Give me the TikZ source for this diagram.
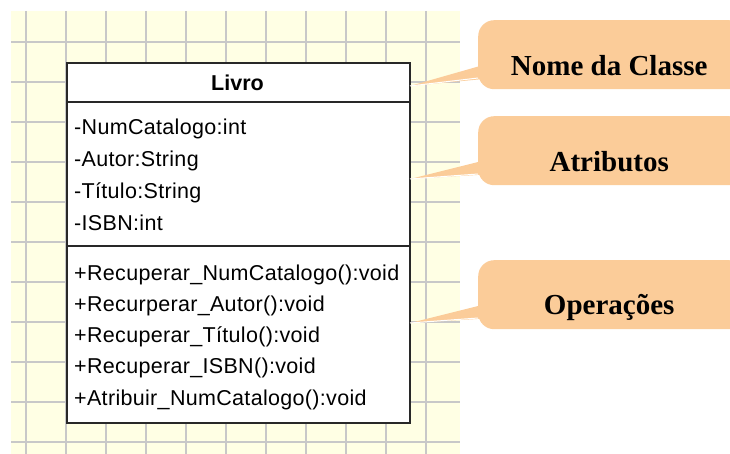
\documentclass[tikz,border=0pt]{standalone}
\usepackage{fontspec}
\setmainfont{Liberation Sans}
\newfontfamily\memberfont[LetterSpace=1.5]{Liberation Sans}
\newfontfamily\calloutfont{Liberation Serif}
\usetikzlibrary{calc}
\definecolor{paper}{RGB}{255,255,228}
\definecolor{gridline}{RGB}{200,200,200}
\definecolor{balloonfill}{RGB}{251,204,153}
\definecolor{umlborder}{RGB}{40,40,40}

\begin{document}
\begin{tikzpicture}[x=1pt,y=-1pt,
  umlpart/.style={draw=umlborder, line width=1.6pt, fill=white, rectangle,
    inner sep=0pt, minimum width=343pt, anchor=north west},
  member/.style={anchor=base west, inner sep=0pt, font=\memberfont\fontsize{21.5}{24}\selectfont},
  balloon/.style={fill=balloonfill, rectangle, rounded corners=16pt, inner sep=0pt,
    minimum width=267pt, minimum height=69pt, anchor=north west},
  balloontext/.style={anchor=base, inner sep=0pt,
    font=\calloutfont\bfseries\fontsize{29}{34}\selectfont},
  pointer/.style={fill=balloonfill},
  pointeredge/.style={draw=white, line width=1pt},
]
\useasboundingbox (0,0) rectangle (730,454);
\clip (0,0) rectangle (730,454);

% squared paper behind the class
\fill[paper] (11,11) rectangle (460,454);
\foreach \gx in {26,66,...,426}
  \draw[gridline, line width=1.6pt] (\gx,11) -- (\gx,454);
\foreach \gy in {42,82,...,442}
  \draw[gridline, line width=1.6pt] (11,\gy) -- (460,\gy);

% the class box: name, attributes, operations
\node[umlpart, minimum height=39pt]  (title) at (66,62)  {};
\node[umlpart, minimum height=144pt] (attrs) at (66,101) {};
\node[umlpart, minimum height=177pt] (ops)   at (66,245) {};

\node[anchor=base, inner sep=0pt, font=\bfseries\fontsize{21.5}{24}\selectfont]
  (name) at (237.5,90.5) {Livro};

\node[member] (a1) at (74,135)   {-NumCatalogo:int};
\node[member] (a2) at (74,167)   {-Autor:String};
\node[member] (a3) at (74,198.5) {-Título:String};
\node[member] (a4) at (74,230)   {-ISBN:int};

\node[member] (o1) at (74,280)   {+Recuperar\_NumCatalogo():void};
\node[member] (o2) at (74,311)   {+Recurperar\_Autor():void};
\node[member] (o3) at (74,342)   {+Recuperar\_Título():void};
\node[member] (o4) at (74,373)   {+Recuperar\_ISBN():void};
\node[member] (o5) at (74,405)   {+Atribuir\_NumCatalogo():void};

% points where the callouts touch the class
\coordinate (tip1) at (410,86);
\coordinate (tip2) at (410,179);
\coordinate (tip3) at (410,323);

% callout balloons
\coordinate (b1) at (478,20);
\coordinate (b2) at (478,116);
\coordinate (b3) at (478,260);

\foreach \b/\t in {b1/tip1, b2/tip2, b3/tip3}{
  \fill[pointer] (\t) -- ($(\b)+(16,42)$) -- ($(\b)+(16,58)$) -- cycle;
  \draw[pointeredge] (\t) -- ($(\b)+(0,58)$);
}

\node[balloon] (c1) at (b1) {};
\node[balloon] (c2) at (b2) {};
\node[balloon] (c3) at (b3) {};

\node[balloontext] (t1) at ($(c1.center)+(-2.5,20.5)$) {Nome da Classe};
\node[balloontext] (t2) at ($(c2.center)+(-2.5,20.5)$) {Atributos};
\node[balloontext] (t3) at ($(c3.center)+(-2.5,20)$)   {Operações};
\end{tikzpicture}
\end{document}
